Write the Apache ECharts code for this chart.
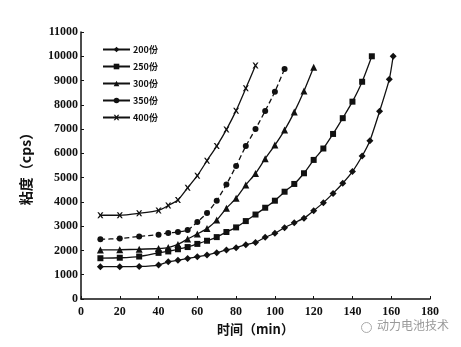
<!DOCTYPE html>
<html>
<head>
<meta charset="utf-8">
<script src="https://cdn.jsdelivr.net/npm/echarts@6/dist/echarts.min.js"></script>
<style>
  html, body { margin: 0; padding: 0; background: #fff; }
  #chart { width: 461px; height: 347px; }
</style>
</head>
<body>
<div id="chart"></div>
<script>
// Viscosity of slurry vs. time for different solvent amounts
const seriesNames = ['200份', '250份', '300份', '350份', '400份'];

const s200 = [[10,1330],[20,1330],[30,1340],[40,1400],[45,1530],[50,1600],[55,1670],[60,1740],[65,1810],[70,1910],[75,2020],[80,2110],[85,2240],[90,2330],[95,2540],[100,2710],[105,2940],[110,3140],[115,3330],[120,3640],[125,3970],[130,4350],[135,4770],[140,5250],[145,5890],[149,6520],[154,7730],[159,9050],[161,10000]];
const s250 = [[10,1680],[20,1700],[30,1750],[40,1900],[45,1960],[50,2050],[55,2140],[60,2270],[65,2400],[70,2550],[75,2760],[80,2950],[85,3210],[90,3480],[95,3760],[100,4050],[105,4420],[110,4740],[115,5180],[120,5730],[125,6200],[130,6800],[135,7450],[140,8130],[145,8950],[150,10000]];
const s300 = [[10,2020],[20,2030],[30,2050],[40,2080],[45,2120],[50,2250],[55,2470],[60,2680],[65,2900],[70,3250],[75,3740],[80,4150],[85,4700],[90,5170],[95,5780],[100,6340],[105,6960],[110,7700],[115,8570],[120,9550]];
const s350 = [[10,2460],[20,2490],[30,2580],[40,2650],[45,2720],[50,2760],[55,2840],[60,3170],[65,3540],[70,4050],[75,4720],[80,5480],[85,6300],[90,7000],[95,7750],[100,8540],[105,9480]];
const s400 = [[10,3450],[20,3450],[30,3530],[40,3650],[45,3850],[50,4080],[55,4580],[60,5080],[65,5700],[70,6300],[75,6980],[80,7760],[85,8680],[90,9620]];

const xTicks = [0, 20, 40, 60, 80, 100, 120, 140, 160, 180];
const yTicks = [0, 1000, 2000, 3000, 4000, 5000, 6000, 7000, 8000, 9000, 10000, 11000];

const serifFont = '"Liberation Serif", "DejaVu Serif", serif';
const cjkFont = '"Noto Sans CJK SC", sans-serif';

const crossPath = 'path://M0,0 L2.5,0 L5,3 L7.5,0 L10,0 L6.5,4.5 L10,9 L7.5,9 L5,6 L2.5,9 L0,9 L3.5,4.5 Z';

function makeSeries(name, data, symbol, size, dashed) {
  return {
    name: name,
    type: 'line',
    data: data,
    symbol: symbol,
    symbolSize: size,
    showSymbol: true,
    smooth: 0.2,
    lineStyle: { color: '#111', width: 1.3, type: dashed ? [5, 3] : 'solid' },
    itemStyle: { color: '#111', borderWidth: 0 },
    emphasis: { disabled: true },
    z: 3
  };
}

const chart = echarts.init(document.getElementById('chart'), null, { renderer: 'canvas' });
chart.setOption({
  animation: false,
  backgroundColor: '#fff',
  grid: { left: 81, right: 31, top: 32, bottom: 48, containLabel: false },
  legend: {
    orient: 'vertical',
    left: 97,
    top: 40,
    itemWidth: 27,
    itemHeight: 7,
    itemGap: 8,
    data: seriesNames.map(n => ({ name: n, itemStyle: { color: '#111' }, lineStyle: { type: 'solid', color: '#111' } })),
    textStyle: { fontFamily: cjkFont, fontSize: 9, fontWeight: 'bold', color: '#111', padding: [0, 0, 0, -2] }
  },
  xAxis: {
    type: 'value',
    min: 0, max: 180, interval: 20,
    name: '时间（min）',
    nameLocation: 'middle',
    nameGap: 22,
    nameTextStyle: { fontFamily: cjkFont, fontSize: 13, fontWeight: 'bold', color: '#111' },
    axisLine: { lineStyle: { color: '#111', width: 1.5 } },
    axisTick: { inside: true, length: 3, lineStyle: { color: '#111' } },
    axisLabel: {
      fontFamily: serifFont, fontSize: 12, fontWeight: 'bold', color: '#111', margin: 7,
      formatter: v => (xTicks.includes(v) ? String(v) : '')
    },
    splitLine: { show: false }
  },
  yAxis: {
    type: 'value',
    min: 0, max: 11000, interval: 1000,
    name: '粘度（cps）',
    nameLocation: 'middle',
    nameGap: 48,
    nameTextStyle: { fontFamily: cjkFont, fontSize: 14, fontWeight: 'bold', color: '#111' },
    axisLine: { show: true, lineStyle: { color: '#111', width: 1.5 } },
    axisTick: { show: true, inside: true, length: 3, lineStyle: { color: '#111' } },
    axisLabel: {
      fontFamily: serifFont, fontSize: 12, fontWeight: 'bold', color: '#111', margin: 3,
      formatter: v => (yTicks.includes(v) ? String(v) : '')
    },
    splitLine: { show: false }
  },
  graphic: [
    {
      type: 'circle', left: 359, top: 320, shape: { r: 5 },
      style: { fill: 'none', stroke: '#aaa', lineWidth: 1 }
    },
    {
      type: 'text', left: 377, top: 319,
      style: { text: '动力电池技术', fill: '#999', font: '12px "Noto Sans CJK SC", sans-serif' }
    }
  ],
  series: [
    makeSeries('200份', s200, 'diamond', 7, false),
    makeSeries('250份', s250, 'rect', 6, false),
    makeSeries('300份', s300, 'triangle', 7, false),
    makeSeries('350份', s350, 'circle', 6, true),
    makeSeries('400份', s400, crossPath, 6, false)
  ]
});
</script>
</body>
</html>
